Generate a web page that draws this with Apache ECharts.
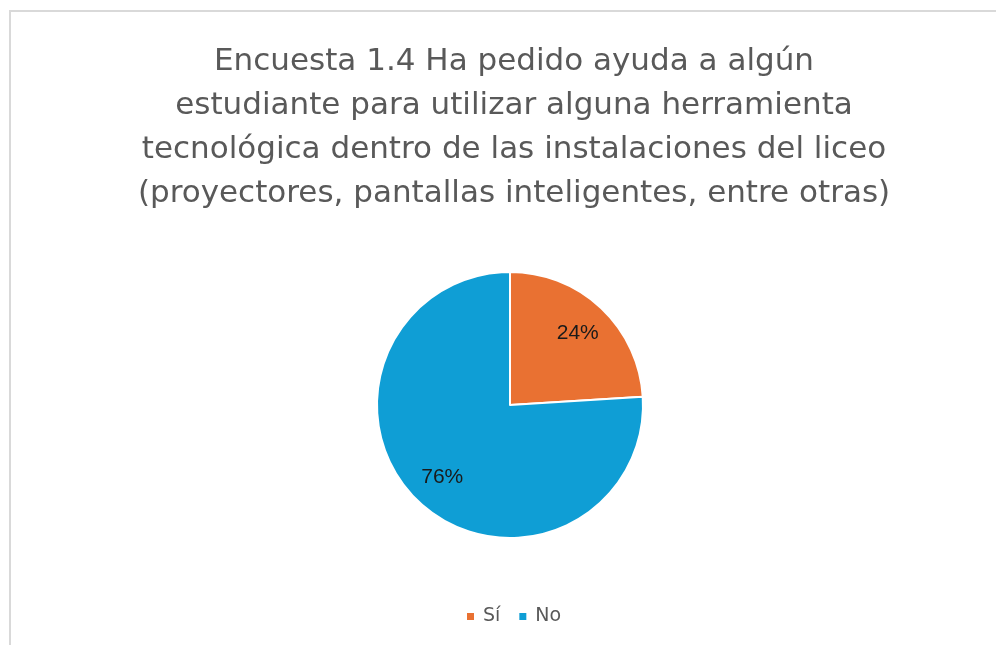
<!DOCTYPE html>
<html>
<head>
<meta charset="utf-8">
<script src="https://cdn.jsdelivr.net/npm/echarts@6/dist/echarts.min.js"></script>
<style>
  body { margin: 0; background: #fff; }
  #main { width: 996px; height: 645px; }
  #frame { position: absolute; left: 9px; top: 10px; right: 0; bottom: 0;
           border-left: 2px solid #d9d9d9; border-top: 2px solid #d9d9d9; pointer-events: none; }
</style>
</head>
<body>
<div id="main"></div>
<div id="frame"></div>
<script>
var categories = ['Sí', 'No'];
var values = [24, 76];
var colors = ['#E97132', '#0F9ED5'];
var titleLines = [
  'Encuesta 1.4 Ha pedido ayuda a algún',
  'estudiante para utilizar alguna herramienta',
  'tecnológica dentro de las instalaciones del liceo',
  '(proyectores, pantallas inteligentes, entre otras)'
];

var myChart = echarts.init(document.getElementById('main'));

var pieData = categories.map(function (c, i) {
  return { name: c, value: values[i], itemStyle: { color: colors[i] } };
});

option = {
  backgroundColor: '#ffffff',
  title: {
    text: titleLines.join('\n'),
    left: 509,
    top: 35,
    textAlign: 'center',
    textStyle: {
      fontFamily: 'DejaVu Sans',
      fontSize: 31,
      fontWeight: 'normal',
      color: '#595959',
      lineHeight: 44
    }
  },
  legend: {
    data: categories,
    bottom: 14,
    left: 460,
    icon: 'rect',
    itemWidth: 9,
    itemHeight: 9,
    itemGap: 17,
    textStyle: { fontFamily: 'DejaVu Sans', fontSize: 19, color: '#595959', padding: [0, 0, 0, 3] }
  },
  series: [
    {
      name: 'Encuesta',
      type: 'pie',
      center: [510, 405],
      radius: [0, 133],
      startAngle: 90,
      silent: true,
      itemStyle: { borderColor: '#ffffff', borderWidth: 2 },
      label: { show: false },
      labelLine: { show: false },
      data: pieData
    },
    {
      // transparent copy, only to place the labels further out than 'inside'
      name: 'labels',
      type: 'pie',
      center: [510, 405],
      radius: [0, 192],
      startAngle: 90,
      silent: true,
      itemStyle: { color: 'rgba(0,0,0,0)' },
      label: {
        show: true,
        position: 'inside',
        formatter: '{d}%',
        fontFamily: 'Liberation Sans',
        fontSize: 21,
        color: '#1a1a1a'
      },
      labelLine: { show: false },
      data: categories.map(function (c, i) {
        return { name: c, value: values[i], itemStyle: { color: 'rgba(0,0,0,0)' } };
      })
    }
  ]
};

myChart.setOption(option);
</script>
</body>
</html>
